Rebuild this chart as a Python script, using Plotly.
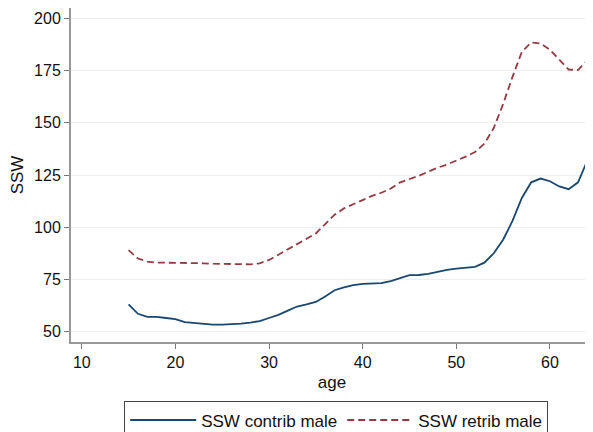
import plotly.graph_objects as go

age = list(range(15, 65))
ssw_contrib = [63, 58.5, 57, 57, 56.5, 56, 54.5, 54, 53.5, 53.3,
               53.3, 53.5, 53.8, 54.3, 55, 56.5, 58, 60, 62, 63,
               64.2, 66.8, 69.8, 71.2, 72.2, 72.8, 73.1, 73.2, 74.2, 75.6,
               77, 77.1, 77.6, 78.6, 79.6, 80.1, 80.5, 81, 83, 87.5,
               94, 103, 114, 121.5, 123.3, 122, 119.5, 118.2, 121.5, 132]
ssw_retrib = [89, 85, 83.5, 83, 83, 83, 83, 83, 82.7, 82.5,
              82.5, 82.5, 82.3, 82.2, 82.7, 84.3, 86.8, 89.3, 92, 94.5,
              97, 101.5, 106, 109, 111, 112.8, 115, 116.5, 118.5, 121.5,
              123, 124.6, 126.6, 128.5, 130, 131.8, 133.8, 136, 140, 147.5,
              159, 172, 184, 188.5, 188, 185, 180.5, 175.5, 175.3, 180]

fig = go.Figure()
fig.add_trace(go.Scatter(x=age, y=ssw_contrib, mode="lines", name="SSW contrib male",
                         line=dict(color="#1a476f", width=1.8)))
fig.add_trace(go.Scatter(x=age, y=ssw_retrib, mode="lines", name="SSW retrib male",
                         line=dict(color="#943a43", width=1.8, dash="7px,4px")))

# page body has an 8px default margin, so the figure is sized to fit the window
fig.update_layout(
    width=585, height=424,
    margin=dict(l=63, r=0, t=0, b=90, autoexpand=False),
    paper_bgcolor="white", plot_bgcolor="white",
    font=dict(family="Liberation Sans, Arial, sans-serif", size=16, color="#111111"),
    showlegend=True,
    legend=dict(orientation="h", x=0.561, xanchor="center", xref="container",
                y=0.072, yanchor="top", yref="container",
                bordercolor="#444444", borderwidth=1, font=dict(size=17),
                itemwidth=66, tracegroupgap=0),
    xaxis=dict(range=[8.85, 64.6], tickvals=[10, 20, 30, 40, 50, 60],
               showgrid=False, zeroline=False, showline=True, linecolor="#999999", linewidth=2,
               ticks="outside", ticklen=5, tickcolor="#777777", automargin=False,
               title=dict(text="age", font=dict(size=17), standoff=6),
               tickfont=dict(size=16)),
    yaxis=dict(range=[45, 205], tickvals=[50, 75, 100, 125, 150, 175, 200],
               showgrid=True, gridcolor="#eeeeee", gridwidth=1, zeroline=False,
               showline=True, linecolor="#999999", linewidth=2,
               ticks="outside", ticklen=5, tickcolor="#777777", automargin=False,
               title=dict(text="SSW", font=dict(size=17), standoff=9),
               tickfont=dict(size=16)),
)

fig.write_html("out.html")
